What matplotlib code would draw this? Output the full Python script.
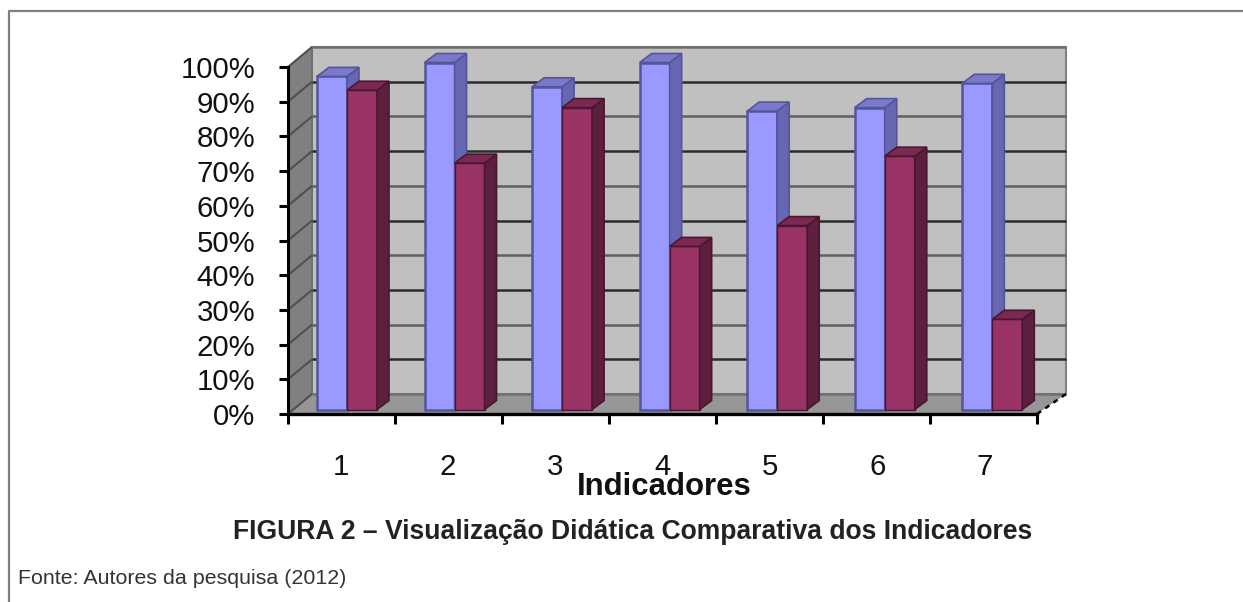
import matplotlib
matplotlib.use("Agg")
import matplotlib.pyplot as plt
from matplotlib.patches import Polygon
from matplotlib.lines import Line2D

plt.rcParams['font.family'] = ['Liberation Sans', 'DejaVu Sans']

categories = ['1', '2', '3', '4', '5', '6', '7']
serie_a = [96, 100, 93, 100, 86, 87, 94]
serie_b = [92, 71, 87, 47, 53, 73, 26]
y_ticks = list(range(0, 101, 10))
y_labels = [f'{v}%' for v in y_ticks]
x_label = 'Indicadores'
caption = 'FIGURA 2 – Visualização Didática Comparativa dos Indicadores'
source = 'Fonte: Autores da pesquisa (2012)'

W, H = 1243, 602
fig = plt.figure(figsize=(W / 100, H / 100), dpi=100, facecolor='white')

# frame around the figure
fig.add_artist(Line2D([8.5 / W, 8.5 / W, 1], [0, 1 - 10.5 / H, 1 - 10.5 / H],
                      color='#808080', lw=1.6, transform=fig.transFigure))

L, R, B, T = 288, 1037, 414, 67
ax = fig.add_axes([L / W, 1 - B / H, (R - L) / W, (B - T) / H])
ax.set_xlim(0, len(categories))
ax.set_ylim(0, 100)
ax.patch.set_visible(False)
for s in ax.spines.values():
    s.set_visible(False)

ppx = (R - L) / len(categories)
ppy = (B - T) / 100
def dx(p): return p / ppx
def dy(p): return p / ppy

DX, DY = dx(24), dy(20)       # wall depth
EX = dx(29)                   # depth of the floor at its right-hand end
n = len(categories)

def poly(pts, fc, ec='none', lw=0, z=1):
    ax.add_patch(Polygon(pts, closed=True, facecolor=fc, edgecolor=ec, linewidth=lw,
                         clip_on=False, zorder=z))

# back wall, side wall, floor
poly([(DX, DY), (n + EX, DY), (n + EX, 100 + DY), (DX, 100 + DY)], '#C0C0C0', '#808080', 1.5)
poly([(0, 0), (DX, DY), (DX, 100 + DY), (0, 100)], '#808080', '#6a6a6a', 1)
poly([(0, 0), (n, 0), (n + EX, DY), (DX, DY)], '#969696')

# gridlines on the walls
for v in y_ticks:
    col = '#2b2b2b' if (v % 20 == 10) else '#606060'
    if v in (0, 100):
        col = '#707070'
    ax.plot([DX, n + EX], [v + DY, v + DY], color=col, lw=1.8, clip_on=False, zorder=2,
            solid_capstyle='butt')
    ax.plot([0, DX], [v, v + DY], color='#505050', lw=1.5, clip_on=False, zorder=2,
            solid_capstyle='butt')

# 3D bars
bw = dx(30)
bx0 = dx(29)
step = 107.55 / ppx
bd_x, bd_y = dx(12), dy(9)
base = dy(4.5)

def bar3d(x, v, front, side, top, edge, lw, z):
    b = ax.bar(x, v, width=bw, bottom=base, align='edge', color=front, edgecolor=edge,
               linewidth=lw, clip_on=False, zorder=z)
    t = base + v
    poly([(x + bw, base), (x + bw + bd_x, base + bd_y), (x + bw + bd_x, t + bd_y), (x + bw, t)],
         side, edge, 1.2, z)
    poly([(x, t), (x + bd_x, t + bd_y), (x + bw + bd_x, t + bd_y), (x + bw, t)],
         top, edge, 1.2, z)
    return b

for i, (a, b) in enumerate(zip(serie_a, serie_b)):
    xa = i * step + bx0
    xb = xa + bw
    bar3d(xa, a, '#9999FF', '#6666B3', '#7a7acc', '#55559a', 1.8, 4 + i * 2)
    bar3d(xb, b, '#993366', '#5c1f3d', '#7a2952', '#4a1731', 1.0, 5 + i * 2)

# axes and ticks
ax.plot([0, n], [0, 0], color='black', lw=2.4, clip_on=False, zorder=30)
ax.plot([0, 0], [0, 100], color='black', lw=2.2, clip_on=False, zorder=30)
# jagged corner at far right of floor
ax.plot([n, n + EX], [0, DY], color='black', lw=1.8, ls=(0, (2, 2)), clip_on=False, zorder=3)

ax.set_yticks(y_ticks, y_labels, fontsize=21.2, color='#111111')
ax.set_xticks(range(n + 1), [''] * (n + 1))
ax.tick_params(axis='y', length=6.5, width=2.2, color='black', pad=17, direction='out')
ax.tick_params(axis='x', length=7, width=2.2, color='black', direction='out')

for i, c in enumerate(categories):
    fig.text((340.5 + i * 107.4) / W, 1 - 467 / H, c, fontsize=21.2, ha='center', va='center',
             color='#111111')

fig.text(664.5 / W, 1 - 487 / H, x_label, fontsize=22.4, fontweight='bold', ha='center', va='center',
         color='#111111', zorder=40)
fig.text(632.5 / W, 1 - 532 / H, caption, fontsize=19.1, fontweight='bold', ha='center', va='center',
         color='#222222')
fig.text(18 / W, 1 - 579 / H, source, fontsize=15.4, ha='left', va='center', color='#333333')

fig.savefig('out.png', dpi=100, facecolor='white')
